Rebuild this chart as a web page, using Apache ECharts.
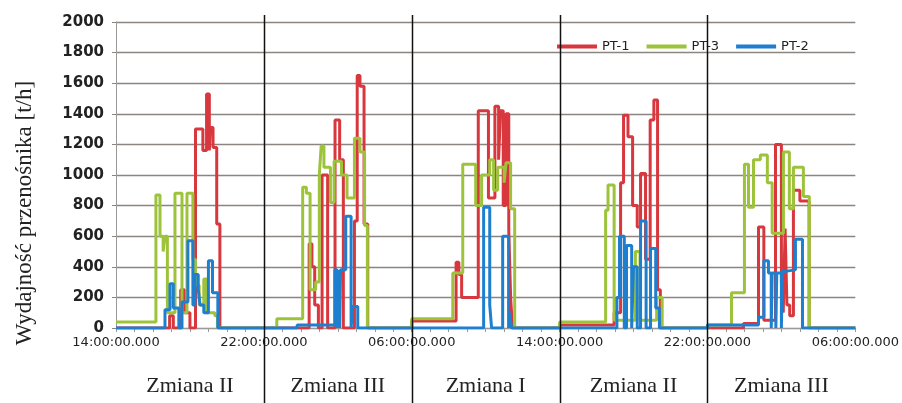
<!DOCTYPE html>
<html><head><meta charset="utf-8">
<script src="https://cdn.jsdelivr.net/npm/echarts@6/dist/echarts.min.js"></script>
<style>html,body{margin:0;padding:0;background:#fff}#c{width:902px;height:403px}</style>
</head><body><div id="c"></div>
<script>
// x: hours elapsed since 14:00 (first shift start); each point = [start hour, value in t/h] held until next point
const xTickLabels = ['14:00:00.000','22:00:00.000','06:00:00.000','14:00:00.000','22:00:00.000','06:00:00.000'];
const shiftNames = ['Zmiana II','Zmiana III','Zmiana I','Zmiana II','Zmiana III'];
const shiftBounds = [8, 16, 24, 32];
const yName = 'Wydajność przenośnika [t/h]';
const seriesNames = ['PT-1', 'PT-3', 'PT-2'];

const pt1 = [
  [0,0],[2.9,80],[3.1,0],[3.5,250],[3.7,100],[4.0,0],[4.3,1300],[4.7,1160],[4.9,1530],[5.05,1160],[5.1,1310],[5.25,1180],[5.45,680],[5.62,0],
  [10.45,550],[10.6,400],[10.75,150],[10.95,0],[11.15,1000],[11.45,0],[11.85,1360],[12.1,1100],[12.3,0],[12.9,700],[13.05,1650],[13.2,1580],[13.42,680],[13.62,0],
  [16,45],[18.4,430],[18.55,350],[18.7,200],[19.6,1420],[20.15,850],[20.5,1450],[20.7,1100],[20.8,1420],[20.95,800],[21.1,1400],[21.25,640],[21.35,200],[21.45,0],
  [24,20],[26.95,100],[27.3,950],[27.46,1390],[27.7,1250],[27.95,800],[28.2,660],[28.38,1010],[28.65,450],[28.9,1360],[29.1,1490],[29.3,250],[29.45,0],
  [32,0],[33.95,30],[34.76,660],[35.05,50],[35.68,1200],[36.0,300],[36.1,100],[36.2,650],[36.3,150],[36.45,80],[36.65,900],[37.0,830],[37.5,0],
  [40,0]
];
const pt3 = [
  [0,40],[2.16,870],[2.38,600],[2.55,500],[2.65,600],[2.78,100],[3.19,880],[3.57,100],[3.84,880],[4.16,450],[4.3,280],[4.5,150],[4.75,320],[4.9,100],[5.35,80],[5.5,0],
  [8.7,60],[10.1,920],[10.3,880],[10.5,250],[10.8,300],[11.0,1000],[11.1,1190],[11.25,1050],[11.6,820],[11.8,1090],[12.2,1000],[12.5,850],[12.9,1240],[13.2,1150],[13.45,670],[13.6,0],
  [16,60],[18.22,360],[18.76,1070],[19.46,800],[19.78,1000],[20.22,1100],[20.43,900],[20.65,1050],[21.0,950],[21.1,1080],[21.35,780],[21.57,0],
  [24,40],[26.49,770],[26.62,935],[26.95,50],[28.1,500],[28.35,50],[29.25,200],[29.55,0],
  [32,20],[33.3,230],[34.0,1070],[34.22,790],[34.49,1100],[34.86,1130],[35.24,950],[35.5,620],[36.11,1150],[36.43,780],[36.65,1050],[37.19,860],[37.51,0],
  [40,0]
];
const pt2 = [
  [0,0],[2.65,120],[2.92,290],[3.1,130],[3.4,0],[3.57,170],[3.89,570],[4.16,150],[4.27,350],[4.45,250],[4.55,150],[4.75,100],[5.0,440],[5.22,230],[5.51,0],
  [9.8,20],[11.84,380],[11.95,0],[12.0,380],[12.1,0],[12.15,380],[12.43,730],[12.72,0],[12.81,140],[13.08,0],
  [19.89,790],[20.22,150],[20.32,0],[20.92,600],[21.24,0],[21.3,100],[21.4,0],
  [27.1,200],[27.24,600],[27.5,0],[27.62,540],[27.9,0],[28.0,400],[28.2,0],[28.38,700],[28.68,0],[28.92,520],[29.2,130],[29.4,0],
  [32,20],[34.76,70],[35.05,440],[35.3,360],[35.45,0],[35.5,360],[35.7,0],[35.75,360],[36.0,0],[36.05,370],[36.2,380],[36.76,580],[37.14,0],
  [40,0]
];

const colors = ['#d7373d', '#9dc33b', '#1f7fcf'];
const chart = echarts.init(document.getElementById('c'), null, {renderer: 'canvas'});
const mk = (name, data, color) => ({
  name, type: 'line', step: 'end', data, symbol: 'none', showSymbol: false,
  lineStyle: {width: 3, color}, itemStyle: {color}, animation: false
});
chart.setOption({
  animation: false,
  backgroundColor: '#fff',
  grid: {left: 116, right: 45, top: 22, bottom: 75},
  legend: {
    data: seriesNames, left: 552, top: 35, icon: 'rect', itemWidth: 40, itemHeight: 4, itemGap: 17,
    textStyle: {fontFamily: 'DejaVu Sans', fontSize: 13, color: '#222'}
  },
  xAxis: [{
    type: 'value', min: 0, max: 40, interval: 1,
    axisLine: {show: true, lineStyle: {color: '#999'}},
    axisTick: {show: true, length: 4, lineStyle: {color: '#999'}},
    splitLine: {show: false},
    axisLabel: {
      formatter: v => (v % 8 === 0 ? xTickLabels[v / 8] : ''),
      fontFamily: 'DejaVu Sans', fontSize: 13, color: '#222', margin: 8
    }
  }, {
    type: 'category', data: shiftNames, position: 'bottom', offset: 44, boundaryGap: true,
    axisLine: {show: false}, axisTick: {show: false}, splitLine: {show: false},
    axisLabel: {fontFamily: 'Liberation Serif', fontSize: 22, color: '#222', margin: 3}
  }],
  yAxis: {
    type: 'value', min: 0, max: 2000, interval: 200,
    axisLine: {show: true, lineStyle: {color: '#999'}},
    axisTick: {show: true, length: 4, lineStyle: {color: '#8a8580'}},
    splitLine: {show: true, lineStyle: {color: '#8a8580', width: 1.3}},
    axisLabel: {formatter: v => String(v), fontFamily: 'DejaVu Sans', fontWeight: 'bold', fontSize: 15, color: '#222', margin: 12},
    name: yName, nameLocation: 'middle', nameGap: 80,
    nameTextStyle: {fontFamily: 'Liberation Serif', fontSize: 23, color: '#222', padding: [0, 76, 0, 0]}
  },
  series: [mk(seriesNames[0], pt1, colors[0]), mk(seriesNames[1], pt3, colors[1]), mk(seriesNames[2], pt2, colors[2])]
});
const lines = shiftBounds.map(h => {
  const x = Math.round(chart.convertToPixel({xAxisIndex: 0}, h)) + 0.5;
  return {type: 'line', z: 100, shape: {x1: x, y1: 15, x2: x, y2: 403}, style: {stroke: '#111', lineWidth: 1.5}};
});
chart.setOption({graphic: lines});
</script></body></html>
